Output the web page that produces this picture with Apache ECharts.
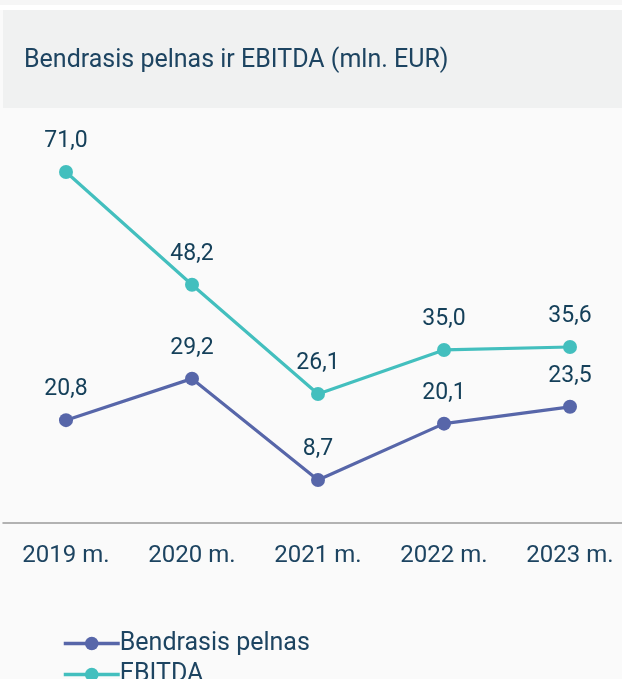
<!DOCTYPE html>
<html>
<head>
<meta charset="utf-8">
<script src="https://cdn.jsdelivr.net/npm/echarts@6/dist/echarts.min.js"></script>
<style>
    html, body { margin: 0; padding: 0; background: #fafafa; }
    #chart { width: 622px; height: 679px; }
</style>
</head>
<body>
<div id="chart"></div>
<script>
    var years = ['2019 m.', '2020 m.', '2021 m.', '2022 m.', '2023 m.'];
    var pelnas = [20.8, 29.2, 8.7, 20.1, 23.5];
    var ebitda = [71.0, 48.2, 26.1, 35.0, 35.6];

    var textColor = '#1d4461';
    var fmt = function (p) {
        return p.value.toFixed(1).replace('.', ',');
    };

    var chart = echarts.init(document.getElementById('chart'));
    var legendBase = {
        left: 57,
        itemWidth: 56,
        itemHeight: 17,
        lineStyle: { width: 3.5 },
        textStyle: { color: textColor, fontSize: 25, padding: [0, 0, 0, -5] }
    };
    var option = {
        backgroundColor: '#fafafa',
        textStyle: { fontFamily: 'Roboto' },
        graphic: [
            { type: 'rect', shape: { x: 0, y: 0, width: 622, height: 5 }, style: { fill: '#f6f6f6' }, z: -1 },
            { type: 'rect', shape: { x: 0, y: 5, width: 622, height: 5 }, style: { fill: '#ffffff' }, z: -1 },
            { type: 'rect', shape: { x: 3, y: 10, width: 619, height: 98 }, style: { fill: '#f0f1f1' }, z: -1 }
        ],
        title: {
            text: 'Bendrasis pelnas ir EBITDA (mln. EUR)',
            left: 19,
            top: 43,
            textStyle: { color: textColor, fontSize: 25, fontWeight: 'normal', fontFamily: 'Roboto' }
        },
        legend: [
            Object.assign({ top: 626, data: ['Bendrasis pelnas'] }, legendBase),
            Object.assign({ top: 657, data: ['EBITDA'] }, legendBase)
        ],
        grid: { left: 3, width: 630, top: 127.5, bottom: 156, outerBoundsMode: 'none' },
        xAxis: {
            type: 'category',
            data: years,
            boundaryGap: true,
            axisLine: { lineStyle: { color: '#9a9a9a', width: 1.5 } },
            axisTick: { show: false },
            axisLabel: { color: textColor, fontSize: 24, margin: 21 }
        },
        yAxis: {
            type: 'value',
            min: 0,
            max: 80,
            show: false,
            splitLine: { show: false }
        },
        series: [
            {
                name: 'Bendrasis pelnas',
                type: 'line',
                data: pelnas,
                symbol: 'circle',
                symbolSize: 14,
                color: '#5766a9',
                lineStyle: { width: 3.2 },
                label: { show: true, position: 'top', distance: 12, color: '#15405a', fontSize: 23, formatter: fmt }
            },
            {
                name: 'EBITDA',
                type: 'line',
                data: ebitda,
                symbol: 'circle',
                symbolSize: 14,
                color: '#43bfbe',
                lineStyle: { width: 3.2 },
                label: { show: true, position: 'top', distance: 12, color: '#15405a', fontSize: 23, formatter: fmt }
            }
        ]
    };
    chart.setOption(option);
</script>
</body>
</html>
